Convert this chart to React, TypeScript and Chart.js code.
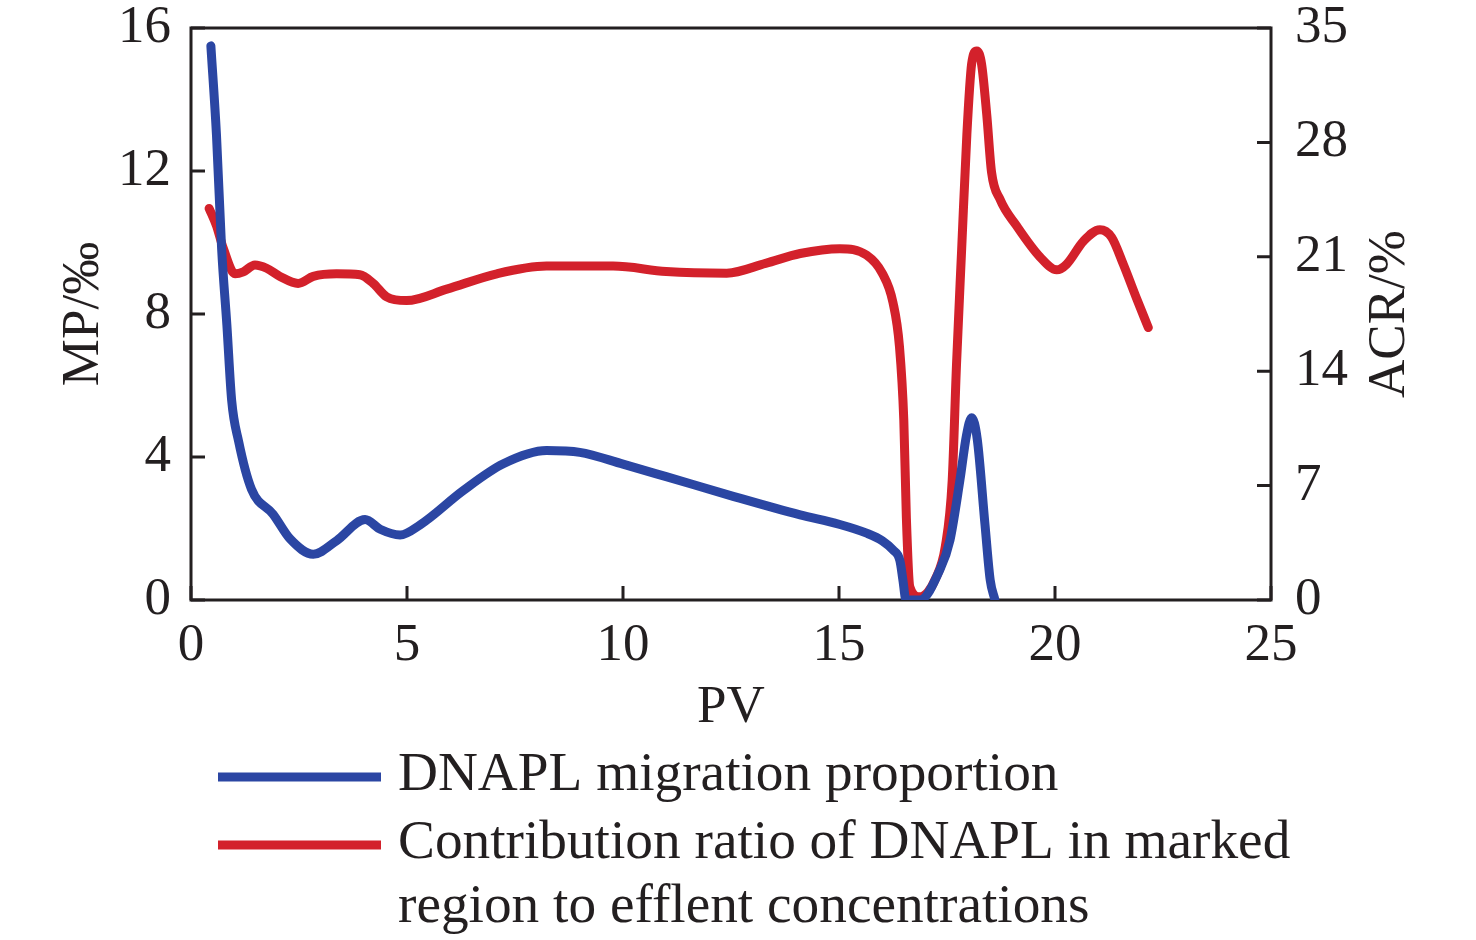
import React, { useEffect, useRef } from "react";
import { Chart, registerables } from "chart.js";

Chart.register(...registerables);

// ---- data ----
const pvMP = [
  0.46, 0.59, 0.71, 0.83, 0.94, 1.1, 1.4, 1.9, 2.3, 2.83, 3.37, 4.03, 4.38, 4.84,
  5.3, 6.3, 7.23, 8.23, 9.0, 10.0, 11.0, 12.55, 14.1, 15.0, 15.64, 16.0, 16.25,
  16.41, 16.48, 16.55, 16.87, 17.34, 17.57, 17.8, 17.95, 18.07, 18.2, 18.38,
  18.5, 18.61,
];
const mpValues = [
  15.5, 13.0, 9.8, 7.7, 5.6, 4.45, 3.1, 2.4, 1.7, 1.28, 1.66, 2.25, 1.98, 1.82,
  2.1, 3.06, 3.81, 4.18, 4.13, 3.8, 3.45, 2.9, 2.38, 2.12, 1.87, 1.66, 1.4,
  1.1, 0.55, 0.0, 0.0, 0.86, 1.68, 3.36, 4.6, 5.1, 4.5, 2.1, 0.56, 0.0,
];
const pvACR = [
  0.42, 0.59, 0.75, 1.02, 1.21, 1.48, 1.75, 2.06, 2.48, 2.83, 3.37, 3.91, 4.22,
  4.53, 4.99, 5.92, 7.08, 8.23, 9.77, 11.0, 12.4, 13.3, 14.1, 15.02, 15.64, 16.0,
  16.25, 16.4, 16.5, 16.56, 16.64, 16.87, 17.06, 17.22, 17.46, 17.62, 17.72,
  17.84, 17.96, 18.07, 18.19, 18.3, 18.42, 18.53, 18.73, 19.11, 19.65, 20.04,
  20.27, 20.66, 21.04, 21.31, 21.58, 21.89, 22.16,
];
const acrValues = [
  23.96, 22.9, 21.5, 19.96, 20.08, 20.5, 20.3, 19.8, 19.37, 19.8, 19.96, 19.9,
  19.37, 18.55, 18.32, 19.02, 19.96, 20.43, 20.43, 20.1, 20.0, 20.6, 21.2, 21.5,
  21.1, 20.0, 18.2, 15.5, 11.0, 5.0, 0.8, 0.2, 0.5, 1.22, 3.26, 7.3, 14.4, 21.5,
  28.5, 32.8, 33.6, 32.8, 29.7, 26.2, 24.5, 22.9, 21.0, 20.2, 20.55, 21.96,
  22.66, 22.2, 20.55, 18.44, 16.67,
];
const xTicks = [0, 5, 10, 15, 20, 25];
const mpTicks = [0, 4, 8, 12, 16];
const acrTicks = [0, 7, 14, 21, 28, 35];
const xTitle = "PV";
const mpTitle = "MP/‰";
const acrTitle = "ACR/%";
const seriesNames = [
  ["DNAPL migration proportion"],
  ["Contribution ratio of DNAPL in marked", "region to efflent concentrations"],
];

const BLUE = "#2b46a3";
const RED = "#d3212b";
const INK = "#231f20";
const FONT = "'Liberation Serif', 'Times New Roman', serif";

const zeroPad = (s: any) => {
  s.paddingTop = 0;
  s.paddingBottom = 0;
  s.paddingLeft = 0;
  s.paddingRight = 0;
};

const decorPlugin = {
  id: "decor",
  beforeDatasetsDraw(chart: any) {
    const { ctx, chartArea: a, scales } = chart;
    ctx.save();
    ctx.strokeStyle = INK;
    ctx.lineWidth = 3;
    ctx.strokeRect(a.left, a.top, a.right - a.left, a.bottom - a.top);
    const L = 14;
    ctx.beginPath();
    scales.x.ticks.forEach((t: any) => {
      const px = scales.x.getPixelForValue(t.value);
      ctx.moveTo(px, a.bottom);
      ctx.lineTo(px, a.bottom - L);
    });
    scales.y.ticks.forEach((t: any) => {
      const py = scales.y.getPixelForValue(t.value);
      ctx.moveTo(a.left, py);
      ctx.lineTo(a.left + L, py);
    });
    scales.y2.ticks.forEach((t: any) => {
      const py = scales.y2.getPixelForValue(t.value);
      ctx.moveTo(a.right, py);
      ctx.lineTo(a.right - L, py);
    });
    ctx.stroke();
    ctx.restore();
  },
  afterDraw(chart: any) {
    const { ctx, chartArea: a } = chart;
    ctx.save();
    ctx.fillStyle = INK;
    ctx.font = `53px ${FONT}`;
    // x title
    ctx.textAlign = "center";
    ctx.textBaseline = "alphabetic";
    ctx.fillText(xTitle, (a.left + a.right) / 2, 722);
    // left title (bottom to top)
    const midY = (a.top + a.bottom) / 2;
    ctx.save();
    ctx.translate(84, midY);
    ctx.rotate(-Math.PI / 2);
    ctx.textBaseline = "middle";
    ctx.fillText(mpTitle, 0, 0);
    ctx.restore();
    // right title (bottom to top as in reference)
    ctx.save();
    ctx.translate(1390, midY);
    ctx.rotate(-Math.PI / 2);
    ctx.textBaseline = "middle";
    ctx.fillText(acrTitle, 0, 0);
    ctx.restore();
    // legend
    const colors = [BLUE, RED];
    const lineY = [777, 845];
    const baselines = [[790], [858, 922]];
    ctx.font = `55.3px ${FONT}`;
    ctx.textAlign = "left";
    ctx.textBaseline = "alphabetic";
    seriesNames.forEach((lines, i) => {
      ctx.strokeStyle = colors[i];
      ctx.lineWidth = 9;
      ctx.beginPath();
      ctx.moveTo(218, lineY[i]);
      ctx.lineTo(381, lineY[i]);
      ctx.stroke();
      lines.forEach((txt, j) => {
        ctx.fillText(txt, 398, baselines[i][j]);
      });
    });
    ctx.restore();
  },
};

export default function App() {
  const ref = useRef<HTMLCanvasElement | null>(null);
  useEffect(() => {
    if (!ref.current) return;
    const tickFont = { family: FONT, size: 53 };
    const chart = new Chart(ref.current, {
      type: "line",
      data: {
        datasets: [
          {
            label: seriesNames[0].join(" "),
            data: pvMP.map((x, i) => ({ x, y: mpValues[i] })),
            borderColor: BLUE,
            borderWidth: 9,
            pointRadius: 0,
            cubicInterpolationMode: "monotone",
            yAxisID: "y",
            borderCapStyle: "round",
            borderJoinStyle: "round",
          },
          {
            label: seriesNames[1].join(" "),
            data: pvACR.map((x, i) => ({ x, y: acrValues[i] })),
            borderColor: RED,
            borderWidth: 9,
            pointRadius: 0,
            cubicInterpolationMode: "monotone",
            yAxisID: "y2",
            borderCapStyle: "round",
            borderJoinStyle: "round",
          },
        ],
      },
      options: {
        animation: false,
        responsive: false,
        layout: { padding: { top: 28, left: 0, right: 0, bottom: 0 } },
        plugins: { legend: { display: false }, tooltip: { enabled: false } },
        scales: {
          x: {
            type: "linear",
            min: 0,
            max: 25,
            afterBuildTicks: (s: any) => {
              s.ticks = xTicks.map((v) => ({ value: v }));
            },
            afterFit: (s: any) => {
              s.height = 340;
              zeroPad(s);
            },
            grid: { display: false, drawTicks: false },
            border: { display: false },
            ticks: { font: tickFont, color: INK, padding: 14, maxRotation: 0 },
          },
          y: {
            type: "linear",
            position: "left",
            min: 0,
            max: 16,
            afterBuildTicks: (s: any) => {
              s.ticks = mpTicks.map((v) => ({ value: v }));
            },
            afterFit: (s: any) => {
              s.width = 191;
              zeroPad(s);
            },
            grid: { display: false, drawTicks: false },
            border: { display: false },
            ticks: { font: tickFont, color: INK, padding: 20 },
          },
          y2: {
            type: "linear",
            position: "right",
            min: 0,
            max: 35,
            afterBuildTicks: (s: any) => {
              s.ticks = acrTicks.map((v) => ({ value: v }));
            },
            afterFit: (s: any) => {
              s.width = 205;
              zeroPad(s);
            },
            grid: { display: false, drawTicks: false },
            border: { display: false },
            ticks: { font: tickFont, color: INK, padding: 24 },
          },
        },
      },
      plugins: [decorPlugin],
    } as any);
    return () => chart.destroy();
  }, []);
  return (
    <div style={{ position: "fixed", left: 0, top: 0, width: 1476, height: 940, background: "#fff" }}>
      <canvas ref={ref} width={1476} height={940} style={{ display: "block" }} />
    </div>
  );
}
